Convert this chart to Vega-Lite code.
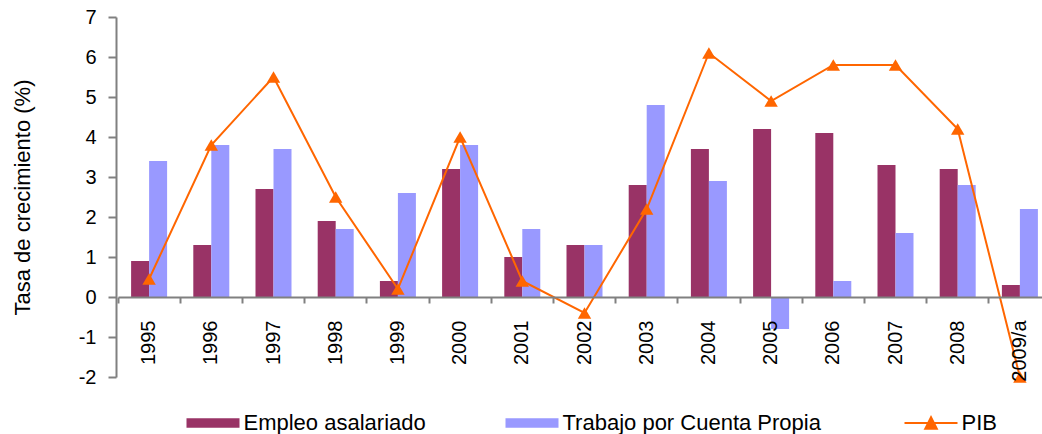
{
  "$schema": "https://vega.github.io/schema/vega-lite/v6.json",
  "width": 926,
  "height": 360,
  "autosize": {"type": "none"},
  "padding": {"left": 116, "top": 17, "right": 0, "bottom": 57},
  "background": "white",
  "config": {
    "view": {"stroke": null},
    "font": "Liberation Sans",
    "axis": {"labelFont": "Liberation Sans", "titleFont": "Liberation Sans", "labelColor": "black", "titleColor": "black", "grid": false}
  },
  "data": {
    "values": [
      {"a": "1995", "s": "Empleo asalariado", "v": 0.9},
      {"a": "1996", "s": "Empleo asalariado", "v": 1.3},
      {"a": "1997", "s": "Empleo asalariado", "v": 2.7},
      {"a": "1998", "s": "Empleo asalariado", "v": 1.9},
      {"a": "1999", "s": "Empleo asalariado", "v": 0.4},
      {"a": "2000", "s": "Empleo asalariado", "v": 3.2},
      {"a": "2001", "s": "Empleo asalariado", "v": 1.0},
      {"a": "2002", "s": "Empleo asalariado", "v": 1.3},
      {"a": "2003", "s": "Empleo asalariado", "v": 2.8},
      {"a": "2004", "s": "Empleo asalariado", "v": 3.7},
      {"a": "2005", "s": "Empleo asalariado", "v": 4.2},
      {"a": "2006", "s": "Empleo asalariado", "v": 4.1},
      {"a": "2007", "s": "Empleo asalariado", "v": 3.3},
      {"a": "2008", "s": "Empleo asalariado", "v": 3.2},
      {"a": "2009/a", "s": "Empleo asalariado", "v": 0.3},
      {"a": "1995", "s": "Trabajo por Cuenta Propia", "v": 3.4},
      {"a": "1996", "s": "Trabajo por Cuenta Propia", "v": 3.8},
      {"a": "1997", "s": "Trabajo por Cuenta Propia", "v": 3.7},
      {"a": "1998", "s": "Trabajo por Cuenta Propia", "v": 1.7},
      {"a": "1999", "s": "Trabajo por Cuenta Propia", "v": 2.6},
      {"a": "2000", "s": "Trabajo por Cuenta Propia", "v": 3.8},
      {"a": "2001", "s": "Trabajo por Cuenta Propia", "v": 1.7},
      {"a": "2002", "s": "Trabajo por Cuenta Propia", "v": 1.3},
      {"a": "2003", "s": "Trabajo por Cuenta Propia", "v": 4.8},
      {"a": "2004", "s": "Trabajo por Cuenta Propia", "v": 2.9},
      {"a": "2005", "s": "Trabajo por Cuenta Propia", "v": -0.8},
      {"a": "2006", "s": "Trabajo por Cuenta Propia", "v": 0.4},
      {"a": "2007", "s": "Trabajo por Cuenta Propia", "v": 1.6},
      {"a": "2008", "s": "Trabajo por Cuenta Propia", "v": 2.8},
      {"a": "2009/a", "s": "Trabajo por Cuenta Propia", "v": 2.2},
      {"a": "1995", "s": "PIB", "v": 0.45},
      {"a": "1996", "s": "PIB", "v": 3.8},
      {"a": "1997", "s": "PIB", "v": 5.5},
      {"a": "1998", "s": "PIB", "v": 2.5},
      {"a": "1999", "s": "PIB", "v": 0.2},
      {"a": "2000", "s": "PIB", "v": 4.0},
      {"a": "2001", "s": "PIB", "v": 0.4},
      {"a": "2002", "s": "PIB", "v": -0.4},
      {"a": "2003", "s": "PIB", "v": 2.2},
      {"a": "2004", "s": "PIB", "v": 6.1},
      {"a": "2005", "s": "PIB", "v": 4.9},
      {"a": "2006", "s": "PIB", "v": 5.8},
      {"a": "2007", "s": "PIB", "v": 5.8},
      {"a": "2008", "s": "PIB", "v": 4.2},
      {"a": "2009/a", "s": "PIB", "v": -2.0}
    ]
  },
  "encoding": {
    "x": {
      "field": "a", "type": "nominal", "sort": null,
      "scale": {"range": [2, 935], "paddingInner": 0, "paddingOuter": 0},
      "axis": {
        "title": null, "offset": -80, "labelAngle": -90, "labelFontSize": 20,
        "labelPadding": 17, "tickSize": 6, "tickWidth": 2, "tickColor": "#808080",
        "domainColor": "#808080", "domainWidth": 2, "bandPosition": 0, "zindex": 1
      }
    },
    "y": {
      "field": "v", "type": "quantitative",
      "scale": {"domain": [-2, 7], "nice": false, "zero": false},
      "axis": {
        "title": "Tasa de crecimiento (%)", "titleFontSize": 22, "titleFontWeight": "normal",
        "titleX": -82, "titleY": 180, "values": [-2, -1, 0, 1, 2, 3, 4, 5, 6, 7],
        "labelExpr": "toString(datum.value)",
        "labelFontSize": 20, "labelPadding": 12, "tickSize": 8, "tickWidth": 2,
        "tickColor": "#808080", "domainColor": "#808080", "domainWidth": 2
      }
    },
    "color": {
      "field": "s", "type": "nominal",
      "scale": {
        "domain": ["Empleo asalariado", "Trabajo por Cuenta Propia", "PIB"],
        "range": ["#993366", "#9999FF", "#FF6600"]
      },
      "legend": {
        "orient": "none", "legendX": 86, "legendY": 395, "direction": "horizontal",
        "title": null, "padding": 0, "symbolSize": 2809, "labelFontSize": 22, "labelLimit": 500,
        "labelFont": "Liberation Sans", "labelColor": "black", "labelOffset": 19.5, "columnPadding": 79,
        "encode": {
          "symbols": {
            "update": {
              "shape": {"signal": "datum.value === 'PIB' ? 'M-1,0H1M-0.22,0.22L0,-0.22L0.22,0.22Z' : 'M-1,-0.18H1V0.18H-1Z'"},
              "fill": {"signal": "scale('color', datum.value)"},
              "stroke": {"signal": "scale('color', datum.value)"},
              "strokeWidth": {"signal": "datum.value === 'PIB' ? 2 : 0"},
              "opacity": {"value": 1},
              "fillOpacity": {"value": 1}
            }
          }
        }
      }
    }
  },
  "layer": [
    {
      "transform": [{"filter": "datum.s !== 'PIB'"}],
      "mark": {"type": "bar"},
      "encoding": {
        "xOffset": {
          "field": "s", "type": "nominal",
          "scale": {"domain": ["Empleo asalariado", "Trabajo por Cuenta Propia"], "paddingInner": 0, "paddingOuter": 0.728}
        },
        "y2": {"datum": 0}
      }
    },
    {
      "transform": [{"filter": "datum.s === 'PIB'"}],
      "mark": {"type": "line", "strokeWidth": 2, "clip": false, "point": {"shape": "triangle-up", "filled": true, "size": 180, "opacity": 1}},
      "encoding": {}
    }
  ]
}
